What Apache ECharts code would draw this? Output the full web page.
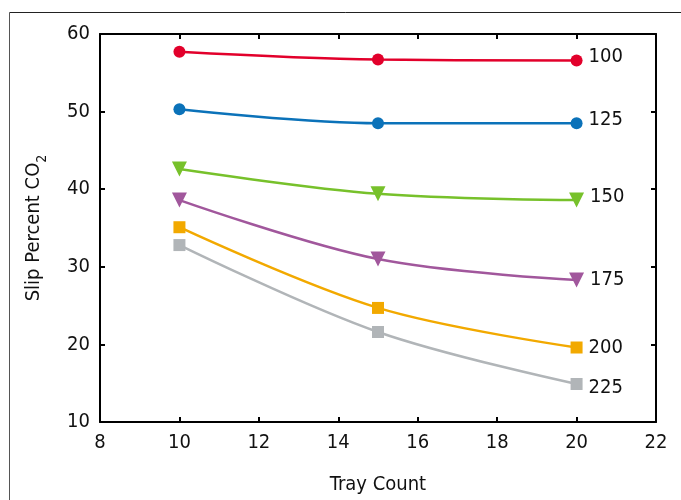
<!DOCTYPE html>
<html>
<head>
<meta charset="utf-8">
<script src="https://cdn.jsdelivr.net/npm/echarts@6/dist/echarts.min.js"></script>
<style>
  html, body { margin: 0; padding: 0; background: #fff; }
  #chart { width: 681px; height: 500px; }
</style>
</head>
<body>
<div id="chart"></div>
<script>
// Tray counts on the x axis
const trayCounts = [10, 15, 20];

// Slip percent CO2 per reflux series
const seriesNames = ['100', '125', '150', '175', '200', '225'];
const slip100 = [57.7, 56.7, 56.6];
const slip125 = [50.3, 48.5, 48.5];
const slip150 = [42.6, 39.4, 38.6];
const slip175 = [38.6, 31.0, 28.3];
const slip200 = [35.1, 24.7, 19.6];
const slip225 = [32.8, 21.6, 14.9];

const xTicks = { min: 8, max: 22, interval: 2 };
const yTicks = { min: 10, max: 60, interval: 10 };

const FONT = '"DejaVu Sans Condensed", "Liberation Sans Narrow", "Liberation Sans", Arial, sans-serif';
const FS = 20;

// end-label vertical nudges so the names don't collide with neighbours
const labelNudge = [-4, -3, -3, 0, 0, 4];

const styles = [
  { data: slip100, color: '#e2002b', symbol: 'circle', size: 12 },
  { data: slip125, color: '#0b72b9', symbol: 'circle', size: 12 },
  { data: slip150, color: '#77c12b', symbol: 'triangle', size: 15, rotate: 180 },
  { data: slip175, color: '#a1579c', symbol: 'triangle', size: 15, rotate: 180 },
  { data: slip200, color: '#f2a900', symbol: 'rect', size: 12 },
  { data: slip225, color: '#b1b5b8', symbol: 'rect', size: 12 }
];

const series = styles.map((s, i) => ({
  name: seriesNames[i],
  type: 'line',
  smooth: 0.35,
  symbol: s.symbol,
  symbolSize: s.size,
  symbolRotate: s.rotate || 0,
  lineStyle: { color: s.color, width: 2.5 },
  itemStyle: { color: s.color },
  data: s.data.map((v, j) => {
    const pt = { value: [trayCounts[j], v] };
    if (j === s.data.length - 1) {
      pt.label = {
        show: true,
        position: 'right',
        distance: 6,
        offset: [0, labelNudge[i]],
        formatter: seriesNames[i],
        color: '#111',
        fontSize: FS,
        fontFamily: FONT
      };
    }
    return pt;
  }),
  z: 3
}));

const axisCommon = {
  axisLine: { show: true, lineStyle: { color: '#000', width: 2 } },
  axisTick: { show: true, inside: true, length: 5, lineStyle: { color: '#000', width: 2 } },
  splitLine: { show: false }
};

const chart = echarts.init(document.getElementById('chart'));
chart.setOption({
  animation: false,
  backgroundColor: '#fff',
  grid: { left: 100, right: 25, top: 34, bottom: 75 },
  graphic: [
    { type: 'line', shape: { x1: 9.5, y1: 12.5, x2: 681, y2: 12.5 }, style: { stroke: '#222', lineWidth: 1 } },
    { type: 'line', shape: { x1: 9.5, y1: 12.5, x2: 9.5, y2: 500 }, style: { stroke: '#555', lineWidth: 1 } }
  ],
  xAxis: [
    Object.assign({
      type: 'value', position: 'bottom',
      min: xTicks.min, max: xTicks.max, interval: xTicks.interval,
      name: 'Tray Count', nameLocation: 'middle', nameGap: 53,
      nameTextStyle: { fontSize: FS, color: '#111', fontFamily: FONT },
      axisLabel: { fontSize: FS, color: '#111', margin: 11, fontFamily: FONT }
    }, axisCommon),
    Object.assign({
      type: 'value', position: 'top',
      min: xTicks.min, max: xTicks.max, interval: xTicks.interval,
      axisLabel: { show: false }
    }, axisCommon)
  ],
  yAxis: [
    Object.assign({
      type: 'value', position: 'left',
      min: yTicks.min, max: yTicks.max, interval: yTicks.interval,
      name: '{a|Slip Percent CO}{s|2}', nameLocation: 'middle', nameGap: 51,
      nameTextStyle: {
        fontFamily: FONT,
        rich: {
          a: { fontSize: FS, color: '#111', fontFamily: FONT, lineHeight: 30, verticalAlign: 'middle' },
          s: { fontSize: 14, color: '#111', fontFamily: FONT, lineHeight: 30, verticalAlign: 'bottom', padding: [10, 0, 0, 0] }
        }
      },
      axisLabel: { fontSize: FS, color: '#111', margin: 10, fontFamily: FONT }
    }, axisCommon),
    Object.assign({
      type: 'value', position: 'right',
      min: yTicks.min, max: yTicks.max, interval: yTicks.interval,
      axisLabel: { show: false }
    }, axisCommon)
  ],
  series: series
});
</script>
</body>
</html>
